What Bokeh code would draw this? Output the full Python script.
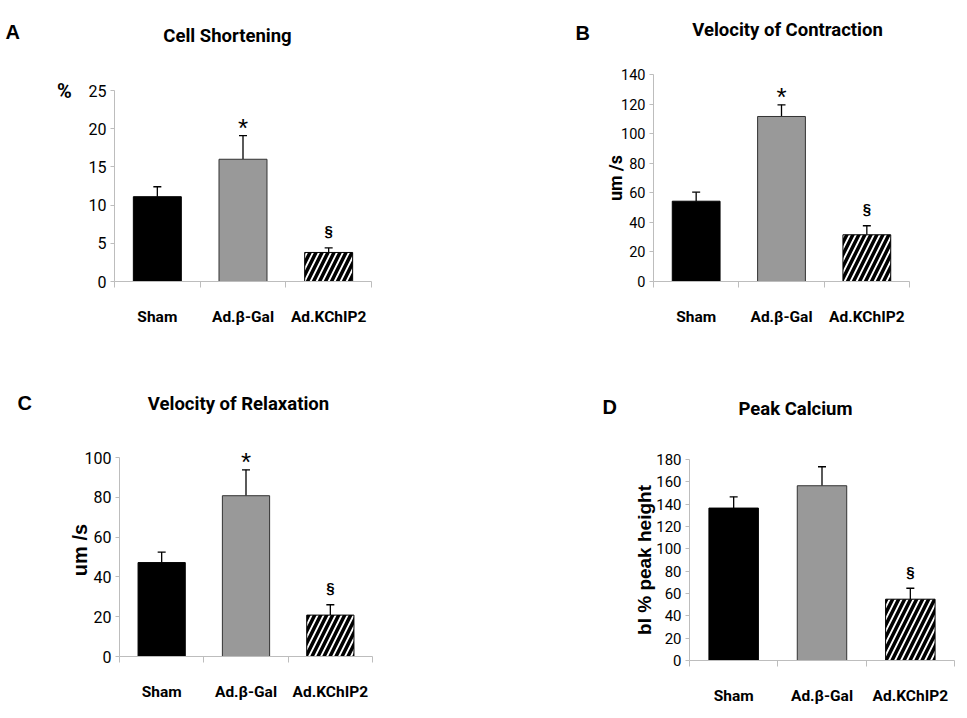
from bokeh.plotting import figure
from bokeh.models import ColumnDataSource, Whisker, TeeHead, FixedTicker, Label, Range1d
from bokeh.layouts import column, row
from bokeh.core.properties import value
from bokeh.embed import file_html
from bokeh.resources import INLINE

# ---------------- data ----------------
categories = ["Sham", "Ad.β-Gal", "Ad.KChIP2"]

cs_mean = [11.1, 16.0, 3.8]
cs_err = [1.3, 3.1, 0.6]
cs_mark = ["", "*", "§"]
cs_ticks = [0, 5, 10, 15, 20, 25]

vc_mean = [54.3, 111.6, 31.6]
vc_err = [6.1, 7.9, 6.1]
vc_mark = ["", "*", "§"]
vc_ticks = [0, 20, 40, 60, 80, 100, 120, 140]

vr_mean = [47.2, 80.8, 20.8]
vr_err = [5.3, 13.0, 5.2]
vr_mark = ["", "*", "§"]
vr_ticks = [0, 20, 40, 60, 80, 100]

pc_mean = [136.5, 156.5, 54.9]
pc_err = [10.1, 17.0, 9.8]
pc_mark = ["", "", "§"]
pc_ticks = [0, 20, 40, 60, 80, 100, 120, 140, 160, 180]

# ---------------- style ----------------
bar_fill = ["#000000", "#999999", "#ffffff"]
bar_line = ["#000000", "#333333", "#000000"]
bar_hatch = ["blank", "blank", "right_diagonal_line"]
AXIS_GRAY = "#bdbdbd"
NARROW = "Roboto"
WIDE = "Liberation Sans"


def panel(letter, title, means, errs, marks, ticks, ylabel, ylabel_font, ylabel_size,
          ylabel_standoff, tick_size, geom, letter_pos, title_pos, extra=None, head_px=0):
    w, h, bl, br, bt, bb = geom
    # head_px: extra room (pixels) above the top tick so marks there are not clipped
    fh = h - bt - bb
    bt2 = bt - head_px
    ymax = ticks[-1] * (fh + head_px) / fh

    xs = [i + 0.5 for i in range(len(categories))]
    uppers = [m + e for m, e in zip(means, errs)]
    src = ColumnDataSource(dict(
        x=xs, top=means, upper=uppers,
        fill=bar_fill, line=bar_line, hatch=bar_hatch,
    ))
    star = ColumnDataSource(dict(
        x=[x for x, m in zip(xs, marks) if m == "*"],
        y=[u for u, m in zip(uppers, marks) if m == "*"],
        t=[m for m in marks if m == "*"]))
    sect = ColumnDataSource(dict(
        x=[x for x, m in zip(xs, marks) if m == "§"],
        y=[u for u, m in zip(uppers, marks) if m == "§"],
        t=[m for m in marks if m == "§"]))

    p = figure(width=w, height=h, output_backend="svg", toolbar_location=None,
               x_range=Range1d(0, len(categories)), y_range=Range1d(0, ymax),
               min_border_left=bl, min_border_right=br, min_border_top=bt2,
               min_border_bottom=bb, outline_line_color=None,
               background_fill_color="white", border_fill_color="white")
    p.xgrid.visible = False
    p.ygrid.visible = False

    p.vbar(x="x", top="top", bottom=0, width=0.56, source=src,
           fill_color="fill", line_color="line", line_width=1,
           hatch_pattern="hatch", hatch_color="black", hatch_scale=12, hatch_weight=3.5)

    wh = Whisker(base="x", upper="upper", lower="top", source=src,
                 line_color="black", line_width=1.3,
                 upper_head=TeeHead(size=8, line_color="black", line_width=1.3),
                 lower_head=None)
    p.add_layout(wh)

    p.text(x="x", y="y", text="t", source=star, y_offset=-8,
           text_align="center", text_baseline="alphabetic",
           text_font=value(WIDE), text_font_size="26px", text_color="black")
    p.text(x="x", y="y", text="t", source=sect, y_offset=-17,
           text_align="center", text_baseline="alphabetic",
           text_font=value(WIDE), text_font_size="15px", text_font_style="bold",
           text_color="black")

    # x axis
    xa = p.xaxis[0]
    xa.ticker = FixedTicker(ticks=xs, minor_ticks=list(range(len(categories) + 1)))
    xa.major_label_overrides = {x: c for x, c in zip(xs, categories)}
    xa.major_tick_out = 0
    xa.major_tick_in = 0
    xa.minor_tick_out = 6
    xa.minor_tick_in = 0
    xa.minor_tick_line_color = AXIS_GRAY
    xa.axis_line_color = AXIS_GRAY
    xa.major_label_standoff = 20
    xa.major_label_text_font = NARROW
    xa.major_label_text_font_style = "bold"
    xa.major_label_text_font_size = "15.5px"
    xa.major_label_text_color = "black"

    # y axis
    ya = p.yaxis[0]
    ya.ticker = FixedTicker(ticks=ticks, minor_ticks=[])
    ya.bounds = (ticks[0], ticks[-1])
    ya.major_tick_out = 4
    ya.major_tick_in = 0
    ya.major_tick_line_color = AXIS_GRAY
    ya.axis_line_color = AXIS_GRAY
    ya.major_label_standoff = 4
    ya.major_label_text_font = NARROW
    ya.major_label_text_font_size = tick_size
    ya.major_label_text_color = "black"
    if ylabel:
        ya.axis_label = ylabel
        ya.axis_label_text_font = ylabel_font
        ya.axis_label_text_font_style = "bold"
        ya.axis_label_text_font_size = ylabel_size
        ya.axis_label_text_color = "black"
        ya.axis_label_standoff = ylabel_standoff

    # labels stacked in the "above" panel (each later one sits above the previous);
    # y is measured from the frame top, which moves up by head_px
    p.add_layout(Label(x=letter_pos[0], y=letter_pos[1] - head_px, x_units="screen",
                       y_units="screen", text=letter, text_font=WIDE, text_font_style="bold",
                       text_font_size="20px", text_align="left", text_baseline="middle",
                       text_color="black"), "above")
    p.add_layout(Label(x=title_pos[0], y=title_pos[1] - head_px, x_units="screen",
                       y_units="screen", text=title, text_font=NARROW, text_font_style="bold",
                       text_font_size="18.5px", text_align="center", text_baseline="middle",
                       text_color="black"), "above")
    if extra:
        p.add_layout(Label(x=extra[1], y=extra[2] - head_px, x_units="screen",
                           y_units="screen", text=extra[0], text_font=NARROW,
                           text_font_style="bold", text_font_size="20px",
                           text_align="center", text_baseline="middle",
                           text_color="black"), "above")
    return p


pA = panel("A", "Cell Shortening", cs_mean, cs_err, cs_mark, cs_ticks,
           None, None, None, 0, "16px", (480, 360, 114, 109, 90, 79),
           (-109, 59), (113, 33), extra=("%", -50, -44))
pB = panel("B", "Velocity of Contraction", vc_mean, vc_err, vc_mark, vc_ticks,
           "um /s", NARROW, "18px", -8, "14.5px", (486, 360, 173, 57, 74, 79),
           (-78, 42), (134, 23))
pC = panel("C", "Velocity of Relaxation", vr_mean, vr_err, vr_mark, vr_ticks,
           "um /s", WIDE, "20px", -9, "16px", (480, 357, 119, 108, 97, 61),
           (-102, 55), (119, 32), head_px=14)
pD = panel("D", "Peak Calcium", pc_mean, pc_err, pc_mark, pc_ticks,
           "bl % peak height", WIDE, "19px", -2, "15px", (486, 357, 209, 12, 99, 57),
           (-87, 53), (106, 29))

layout = column(row(column(pA), column(pB)), row(column(pC), column(pD)))
open("out.html", "w").write(file_html(layout, INLINE))
